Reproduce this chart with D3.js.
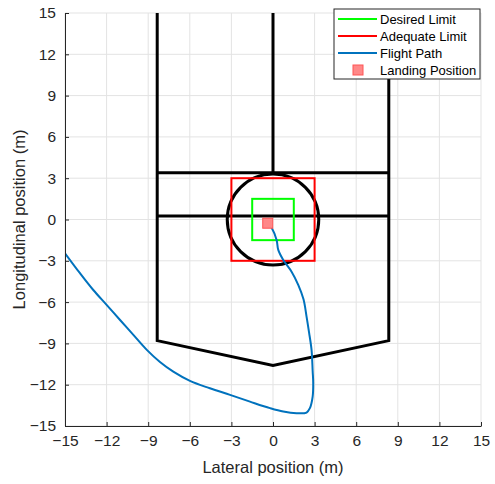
<!DOCTYPE html>
<html>
<head>
<meta charset="utf-8">
<script src="https://cdn.jsdelivr.net/npm/d3@7"></script>
<style>
body { margin: 0; background: #fff; }
text { font-family: "Liberation Sans", Arial, sans-serif; }
</style>
</head>
<body>
<div id="chart"></div>
<script>
var ticks = [-15, -12, -9, -6, -3, 0, 3, 6, 9, 12, 15];

// helipad outline (m)
var padX = [-8.35, -8.35, 0, 8.35, 8.35];
var padY = [15, -8.8, -10.6, -8.8, 15];
var barY = [3.4, 0.25];
var centerLineY = [15, 3.4];
var circleR = 3.3;
var desiredHalf = 1.5;
var adequateHalf = 3;

// flight path (m)
var pathX = [-15.0, -13.92, -12.96, -12.0, -11.03, -10.07, -9.1, -8.15, -7.19, -5.99, -4.55, -3.1, -1.66, -0.22, 0.74, 1.7, 2.42, 2.66, 2.86, 2.9, 2.86, 2.78, 2.6, 2.42, 2.2, 1.82, 1.34, 0.74, 0.38, 0.26, -0.1, -0.35];
var pathY = [-2.45, -3.9, -5.12, -6.2, -7.3, -8.38, -9.47, -10.35, -11.05, -11.72, -12.26, -12.74, -13.23, -13.7, -13.95, -14.07, -14.02, -13.7, -12.86, -11.89, -11.0, -9.47, -8.2, -7.05, -5.8, -4.75, -3.79, -2.94, -2.21, -1.49, -0.6, -0.3];
var landing = [-0.38, -0.27];

var legendNames = ["Desired Limit", "Adequate Limit", "Flight Path", "Landing Position"];
var legendColors = ["#00ff00", "#ff0000", "#0072bd", "#ff0000"];

var width = 495, height = 484;
var margin = {left: 65, right: 14, top: 13, bottom: 58};

var svg = d3.select("#chart").append("svg")
  .attr("width", width)
  .attr("height", height);

var x = d3.scaleLinear().domain([-15, 15]).range([margin.left, width - margin.right]);
var y = d3.scaleLinear().domain([-15, 15]).range([height - margin.bottom, margin.top]);

var plot = svg.append("g");

// grid
plot.append("g").selectAll("line").data(ticks).enter().append("line")
  .attr("x1", function(d){ return x(d); }).attr("x2", function(d){ return x(d); })
  .attr("y1", y(-15)).attr("y2", y(15))
  .attr("stroke", "#e3e3e3").attr("stroke-width", 1);
plot.append("g").selectAll("line").data(ticks).enter().append("line")
  .attr("y1", function(d){ return y(d); }).attr("y2", function(d){ return y(d); })
  .attr("x1", x(-15)).attr("x2", x(15))
  .attr("stroke", "#e3e3e3").attr("stroke-width", 1);

svg.append("clipPath").attr("id", "clip").append("rect")
  .attr("x", x(-15)).attr("y", y(15)).attr("width", x(15) - x(-15)).attr("height", y(-15) - y(15));

var g = svg.append("g").attr("clip-path", "url(#clip)");

var line = d3.line().x(function(d){ return x(d[0]); }).y(function(d){ return y(d[1]); });

// pad
g.append("path")
  .attr("d", line(d3.zip(padX, padY)))
  .attr("fill", "none").attr("stroke", "#000").attr("stroke-width", 3);
g.selectAll(".bar").data(barY).enter().append("line")
  .attr("x1", x(padX[0])).attr("x2", x(padX[4]))
  .attr("y1", function(d){ return y(d); }).attr("y2", function(d){ return y(d); })
  .attr("stroke", "#000").attr("stroke-width", 3);
g.append("line")
  .attr("x1", x(0)).attr("x2", x(0))
  .attr("y1", y(centerLineY[0])).attr("y2", y(centerLineY[1]))
  .attr("stroke", "#000").attr("stroke-width", 3);
g.append("ellipse")
  .attr("cx", x(0)).attr("cy", y(0))
  .attr("rx", x(circleR) - x(0)).attr("ry", y(0) - y(circleR))
  .attr("fill", "none").attr("stroke", "#000").attr("stroke-width", 3);

// limits
function square(h, color) {
  g.append("rect")
    .attr("x", x(-h)).attr("y", y(h))
    .attr("width", x(h) - x(-h)).attr("height", y(-h) - y(h))
    .attr("fill", "none").attr("stroke", color).attr("stroke-width", 2);
}
square(desiredHalf, legendColors[0]);
square(adequateHalf, legendColors[1]);

// flight path
var smooth = d3.line().curve(d3.curveCatmullRom.alpha(0.5))
  .x(function(d){ return x(d[0]); }).y(function(d){ return y(d[1]); });
g.append("path")
  .attr("d", smooth(d3.zip(pathX, pathY)))
  .attr("fill", "none").attr("stroke", legendColors[2]).attr("stroke-width", 2)
  .attr("stroke-linejoin", "round");

// landing marker
g.append("rect")
  .attr("x", x(landing[0]) - 5).attr("y", y(landing[1]) - 5)
  .attr("width", 10).attr("height", 10)
  .attr("fill", "#ff8888").attr("stroke", "#ff5555").attr("stroke-width", 1);

// axes
var xAxis = svg.append("g")
  .attr("transform", "translate(0," + y(-15) + ")")
  .call(d3.axisBottom(x).tickValues(ticks).tickSizeInner(-4).tickSizeOuter(0).tickPadding(9));
var yAxis = svg.append("g")
  .attr("transform", "translate(" + x(-15) + ",0)")
  .call(d3.axisLeft(y).tickValues(ticks).tickSizeInner(-4).tickSizeOuter(0).tickPadding(9));
[xAxis, yAxis].forEach(function(a){
  a.select(".domain").attr("stroke", "#262626");
  a.selectAll(".tick line").attr("stroke", "#262626");
  a.selectAll(".tick text").attr("fill", "#262626").style("font-size", "15.5px")
    .style("font-family", "Liberation Sans, Arial, sans-serif");
});

svg.append("text")
  .text("Lateral position (m)")
  .attr("x", x(0)).attr("y", 473)
  .attr("text-anchor", "middle").attr("fill", "#262626").style("font-size", "16.5px");
svg.append("text")
  .text("Longitudinal position (m)")
  .attr("transform", "translate(25," + y(0) + ") rotate(-90)")
  .attr("text-anchor", "middle").attr("fill", "#262626").style("font-size", "16.5px");

// legend
var leg = svg.append("g").attr("transform", "translate(334,9)");
leg.append("rect").attr("width", 146).attr("height", 70)
  .attr("fill", "#fff").attr("stroke", "#262626").attr("stroke-width", 1);
var items = leg.selectAll(".item").data(legendNames).enter().append("g")
  .attr("transform", function(d, i){ return "translate(0," + (10 + i * 17) + ")"; });
items.each(function(d, i){
  var it = d3.select(this);
  if (i < 3) {
    it.append("line").attr("x1", 4).attr("x2", 43).attr("y1", 0).attr("y2", 0)
      .attr("stroke", legendColors[i]).attr("stroke-width", 2);
  } else {
    it.append("rect").attr("x", 19).attr("y", -5).attr("width", 10).attr("height", 10)
      .attr("fill", "#ff8888").attr("stroke", "#ff5555");
  }
  it.append("text").text(d).attr("x", 46).attr("y", 4.5)
    .attr("fill", "#000").style("font-size", "13px");
});
</script>
</body>
</html>
